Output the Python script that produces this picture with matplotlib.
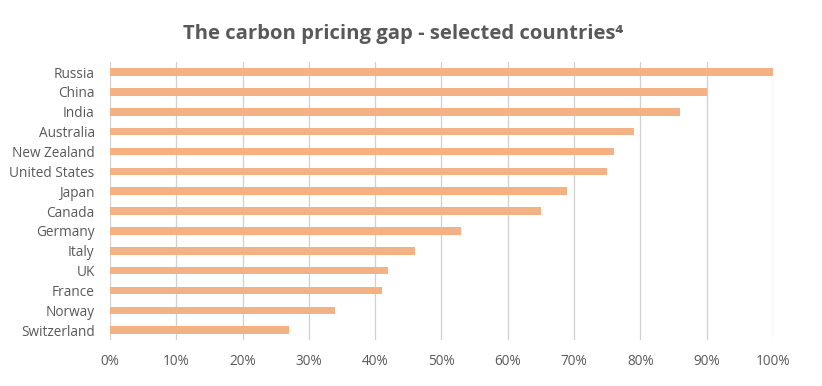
import matplotlib.pyplot as plt
from matplotlib.ticker import PercentFormatter

countries = ['Russia', 'China', 'India', 'Australia', 'New Zealand', 'United States',
             'Japan', 'Canada', 'Germany', 'Italy', 'UK', 'France', 'Norway', 'Switzerland']
gap = [1.00, 0.90, 0.86, 0.79, 0.76, 0.75, 0.69, 0.65, 0.53, 0.46, 0.42, 0.41, 0.34, 0.27]

plt.rcParams['font.family'] = ['Open Sans', 'DejaVu Sans']
text_col = '#595959'

fig = plt.figure(figsize=(8.22, 3.86), dpi=100)
ax = fig.add_axes([0.1338, 0.119, 0.8066, 0.72])

ax.barh(range(len(countries)), gap, height=0.38, color='#F4B183', zorder=2)

ax.set_xlim(0, 1)
ax.set_ylim(len(countries) - 0.5, -0.5)
ax.set_yticks(range(len(countries)))
ax.set_yticklabels(countries)
ax.set_xticks([i / 10 for i in range(11)])
ax.xaxis.set_major_formatter(PercentFormatter(1.0, decimals=0))
ax.tick_params(axis='both', length=0, colors=text_col, labelsize=9.8)
ax.tick_params(axis='x', pad=10)
ax.tick_params(axis='y', pad=11)
ax.grid(axis='x', color='#d0d0d0', linewidth=0.9, zorder=0)
for s in ax.spines.values():
    s.set_visible(False)

fig.text(0.49, 0.912, 'The carbon pricing gap - selected countries\u2074', ha='center', va='center',
         fontsize=14.6, fontweight='bold', color=text_col)

fig.savefig('out.png', dpi=100)
